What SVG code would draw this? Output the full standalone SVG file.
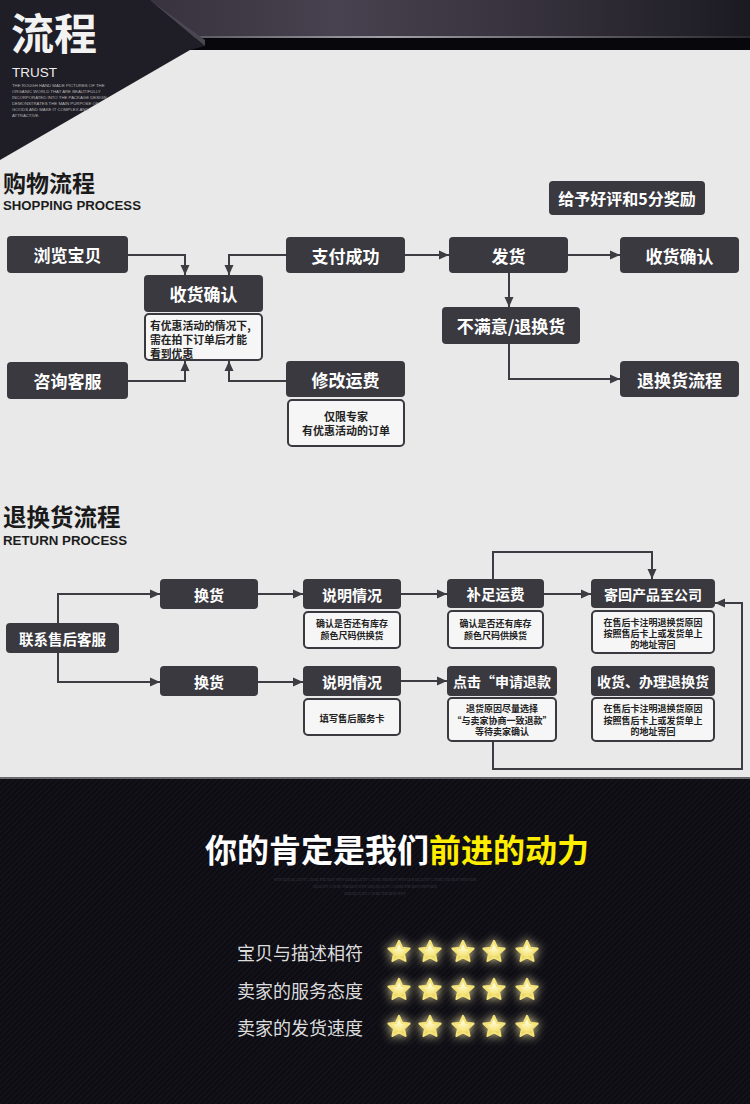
<svg xmlns="http://www.w3.org/2000/svg" width="750" height="1104" viewBox="0 0 750 1104">
<defs>
<style>
.box{fill:#3a393f;}
.note{fill:#f6f6f6;stroke:#3a393f;stroke-width:2;}
.bt{font-family:"Noto Sans CJK SC","Noto Sans",sans-serif;font-weight:bold;fill:#ffffff;text-anchor:middle;dominant-baseline:central;}
.nt{font-family:"Noto Sans CJK SC","Noto Sans",sans-serif;font-weight:bold;fill:#222;text-anchor:middle;dominant-baseline:central;}
.ntl{font-family:"Noto Sans CJK SC","Noto Sans",sans-serif;font-weight:bold;fill:#222;text-anchor:start;dominant-baseline:central;}
.conn{fill:none;stroke:#3d3c42;stroke-width:2;}
.h1{font-family:"Noto Sans CJK SC",sans-serif;font-weight:bold;fill:#1a1a1a;dominant-baseline:central;}
.en{font-family:"Liberation Sans",Arial,sans-serif;font-weight:bold;fill:#1c1c1c;}
.tiny{font-family:"Liberation Sans",Arial,sans-serif;font-size:4.3px;fill:#b5b5b5;}
.lbl{font-family:"Noto Sans CJK SC",sans-serif;font-size:18px;fill:#dcdcdc;dominant-baseline:central;}
</style>
<marker id="arr" markerUnits="userSpaceOnUse" markerWidth="10" markerHeight="10" refX="10" refY="5" orient="auto">
<path d="M0,0.5 L10,5 L0,9.5 z" fill="#3d3c42"/>
</marker>
<linearGradient id="band" x1="0" y1="0" x2="1" y2="0">
<stop offset="0" stop-color="#2a2730"/>
<stop offset="0.45" stop-color="#48414f"/>
<stop offset="0.75" stop-color="#332f39"/>
<stop offset="1" stop-color="#1b1a21"/>
</linearGradient>
<linearGradient id="hl" x1="0" y1="0" x2="1" y2="0">
<stop offset="0" stop-color="#5a5860"/>
<stop offset="0.35" stop-color="#a09ea6"/>
<stop offset="1" stop-color="#2a2930"/>
</linearGradient>
<pattern id="tex" width="4" height="4" patternUnits="userSpaceOnUse" patternTransform="rotate(45)">
<rect width="4" height="4" fill="#0d0c13"/>
<rect width="1.3" height="4" fill="#16151d"/>
</pattern>
<radialGradient id="starFill" cx="0.5" cy="0.3" r="0.7">
<stop offset="0" stop-color="#fffbd8"/>
<stop offset="0.6" stop-color="#f6e680"/>
<stop offset="1" stop-color="#d9bd33"/>
</radialGradient>
<filter id="glow" x="-80%" y="-80%" width="260%" height="260%">
<feGaussianBlur stdDeviation="3.5"/>
</filter>
<g id="star">
<path d="M0,-11 L3.06,-4.21 L10.46,-3.4 L4.95,1.61 L6.47,8.9 L0,5.2 L-6.47,8.9 L-4.95,1.61 L-10.46,-3.4 L-3.06,-4.21 z" fill="#fff6b0" opacity="0.8" filter="url(#glow)" transform="scale(1.35)"/>
<path d="M0,-11 L3.06,-4.21 L10.46,-3.4 L4.95,1.61 L6.47,8.9 L0,5.2 L-6.47,8.9 L-4.95,1.61 L-10.46,-3.4 L-3.06,-4.21 z" fill="url(#starFill)" stroke="#f4e27a" stroke-width="2.2" stroke-linejoin="round"/>
</g>
</defs>

<!-- backgrounds -->
<rect x="0" y="0" width="750" height="1104" fill="#e9e9e9"/>
<rect x="0" y="0" width="750" height="38" fill="url(#band)"/>
<rect x="0" y="38" width="750" height="12" fill="#08070c"/>
<rect x="190" y="36" width="560" height="2" fill="url(#hl)"/>
<polygon points="0,0 150,0 205,46 190,50 0,160" fill="#1f1d25"/>
<polygon points="150,0 205,40 205,46" fill="#4a4652"/>
<rect x="0" y="779" width="750" height="325" fill="url(#tex)"/>
<rect x="0" y="777" width="750" height="2" fill="#6a6a6e"/>

<!-- header texts -->
<text x="11" y="31" font-family="Noto Sans CJK SC,sans-serif" font-weight="bold" font-size="43" fill="#f2f2f2" dominant-baseline="central">流程</text>
<text x="12" y="77" font-family="Liberation Sans,Arial,sans-serif" font-size="13.5" fill="#eeeeee">TRUST</text>
<text class="tiny" x="12" y="87">THE ROUGH HAND MADE PICTURES OF THE<tspan x="12" dy="5.8">ORGANIC WORLD THAT ARE BEAUTIFULLY</tspan><tspan x="12" dy="6.2">INCORPORATED INTO THE PACKAGE DESIGN</tspan><tspan x="12" dy="5.8">DEMONSTRATES THE MAIN PURPOSE OF</tspan><tspan x="12" dy="6">GOODS AND MAKE IT COMPLEX AND</tspan><tspan x="12" dy="6.2">ATTRACTIVE.</tspan></text>

<!-- section titles -->
<text class="h1" x="3" y="182" font-size="23">购物流程</text>
<text class="en" x="3" y="210" font-size="13.5" textLength="138" lengthAdjust="spacingAndGlyphs">SHOPPING PROCESS</text>
<text class="h1" x="3" y="516" font-size="23.5">退换货流程</text>
<text class="en" x="3" y="545" font-size="13.5" textLength="124" lengthAdjust="spacingAndGlyphs">RETURN PROCESS</text>

<!-- connectors -->
<g id="connectors">
<path class="conn" marker-end="url(#arr)" d="M128,255 H185 V275"/>
<path class="conn" marker-end="url(#arr)" d="M286,255 H229 V275"/>
<path class="conn" marker-end="url(#arr)" d="M128,381 H185 V361"/>
<path class="conn" marker-end="url(#arr)" d="M286,381 H229 V361"/>
<path class="conn" marker-end="url(#arr)" d="M405,255 H449"/>
<path class="conn" marker-end="url(#arr)" d="M568,255 H620"/>
<path class="conn" marker-end="url(#arr)" d="M509,273 V307"/>
<path class="conn" marker-end="url(#arr)" d="M509,344 V379 H620"/>
<path class="conn" marker-end="url(#arr)" d="M58,623 V594 H160"/>
<path class="conn" marker-end="url(#arr)" d="M58,653 V682 H160"/>
<path class="conn" marker-end="url(#arr)" d="M258,594 H303"/>
<path class="conn" marker-end="url(#arr)" d="M258,682 H303"/>
<path class="conn" marker-end="url(#arr)" d="M401,594 H447"/>
<path class="conn" marker-end="url(#arr)" d="M401,681 H447"/>
<path class="conn" marker-end="url(#arr)" d="M544,594 H591"/>
<path class="conn" marker-end="url(#arr)" d="M493,579 V552 H652 V579"/>
<path class="conn" marker-end="url(#arr)" d="M493,742 V769 H742 V603 H715"/>
</g>

<!-- shopping nodes -->
<g id="s-browse"><rect class="box" x="7" y="236" width="121" height="37" rx="4"/><text class="bt" x="67.5" y="254.5" font-size="17">浏览宝贝</text></g>
<g id="s-confirm1">
<rect class="box" x="144" y="275" width="119" height="37" rx="4"/><text class="bt" x="203.5" y="293.5" font-size="17">收货确认</text>
<rect class="note" x="145" y="314" width="117" height="46" rx="4"/>
<text class="ntl" x="150" y="325" font-size="10.8">有优惠活动的情况下,<tspan x="150" dy="14">需在拍下订单后才能</tspan><tspan x="150" dy="14">看到优惠</tspan></text>
</g>
<g id="s-consult"><rect class="box" x="7" y="362" width="121" height="37" rx="4"/><text class="bt" x="67.5" y="380.5" font-size="17">咨询客服</text></g>
<g id="s-paid"><rect class="box" x="286" y="237" width="119" height="36" rx="4"/><text class="bt" x="345.5" y="255" font-size="17">支付成功</text></g>
<g id="s-fee">
<rect class="box" x="286" y="361" width="119" height="36" rx="4"/><text class="bt" x="345.5" y="379" font-size="17">修改运费</text>
<rect class="note" x="288" y="400" width="116" height="46" rx="4"/>
<text class="nt" x="346" y="416" font-size="11">仅限专家<tspan x="346" dy="14.2">有优惠活动的订单</tspan></text>
</g>
<g id="s-reward"><rect class="box" x="549" y="181" width="156" height="34" rx="4"/><text class="bt" x="627" y="198" font-size="16">给予好评和5分奖励</text></g>
<g id="s-ship"><rect class="box" x="449" y="237" width="119" height="36" rx="4"/><text class="bt" x="508.5" y="255" font-size="17">发货</text></g>
<g id="s-confirm2"><rect class="box" x="620" y="237" width="119" height="36" rx="4"/><text class="bt" x="679.5" y="255" font-size="17">收货确认</text></g>
<g id="s-unsat"><rect class="box" x="442" y="307" width="138" height="37" rx="4"/><text class="bt" x="511" y="325.5" font-size="17">不满意/退换货</text></g>
<g id="s-return"><rect class="box" x="620" y="361" width="119" height="36" rx="4"/><text class="bt" x="679.5" y="379" font-size="17">退换货流程</text></g>

<!-- return nodes -->
<g id="r-contact"><rect class="box" x="6" y="623" width="113" height="30" rx="4"/><text class="bt" x="62.5" y="638" font-size="14.5">联系售后客服</text></g>
<g id="r-exch1"><rect class="box" x="160" y="579" width="98" height="30" rx="4"/><text class="bt" x="209" y="594" font-size="15">换货</text></g>
<g id="r-exch2"><rect class="box" x="160" y="666" width="98" height="30" rx="4"/><text class="bt" x="209" y="681" font-size="15">换货</text></g>
<g id="r-explain1">
<rect class="box" x="303" y="579" width="98" height="30" rx="4"/><text class="bt" x="352" y="594" font-size="15">说明情况</text>
<rect class="note" x="304" y="612" width="96" height="36" rx="4"/>
<text class="nt" x="352" y="623.5" font-size="9">确认是否还有库存<tspan x="352" dy="11.5">颜色尺码供换货</tspan></text>
</g>
<g id="r-explain2">
<rect class="box" x="303" y="666" width="98" height="30" rx="4"/><text class="bt" x="352" y="681" font-size="15">说明情况</text>
<rect class="note" x="304" y="699" width="96" height="36" rx="4"/>
<text class="nt" x="352" y="718" font-size="9.3">填写售后服务卡</text>
</g>
<g id="r-topup">
<rect class="box" x="447" y="579" width="97" height="29" rx="4"/><text class="bt" x="495.5" y="593.5" font-size="14.5">补足运费</text>
<rect class="note" x="448" y="611" width="95" height="37" rx="4"/>
<text class="nt" x="495.5" y="623.5" font-size="9">确认是否还有库存<tspan x="495.5" dy="11.5">颜色尺码供换货</tspan></text>
</g>
<g id="r-send">
<rect class="box" x="591" y="579" width="124" height="29" rx="4"/><text class="bt" x="653" y="593.5" font-size="14">寄回产品至公司</text>
<rect class="note" x="592" y="611" width="122" height="42" rx="4"/>
<text class="nt" x="653" y="622" font-size="9">在售后卡注明退换货原因<tspan x="653" dy="11">按照售后卡上或发货单上</tspan><tspan x="653" dy="11">的地址寄回</tspan></text>
</g>
<g id="r-refund">
<rect class="box" x="447" y="666" width="110" height="30" rx="4"/><text class="bt" x="502" y="681" font-size="14">点击“申请退款</text>
<rect class="note" x="448" y="698" width="108" height="43" rx="4"/>
<text class="nt" x="502" y="708.5" font-size="9">退货原因尽量选择<tspan x="502" dy="11">“与卖家协商一致退款”</tspan><tspan x="502" dy="11">等待卖家确认</tspan></text>
</g>
<g id="r-receive">
<rect class="box" x="591" y="666" width="124" height="30" rx="4"/><text class="bt" x="653" y="681" font-size="14">收货、办理退换货</text>
<rect class="note" x="592" y="698" width="122" height="43" rx="4"/>
<text class="nt" x="653" y="708.5" font-size="9">在售后卡注明退换货原因<tspan x="653" dy="11">按照售后卡上或发货单上</tspan><tspan x="653" dy="11">的地址寄回</tspan></text>
</g>

<!-- bottom -->
<text x="205" y="848" font-family="Noto Sans CJK SC,sans-serif" font-weight="bold" font-size="32" dominant-baseline="central"><tspan fill="#ffffff">你的肯定是我们</tspan><tspan fill="#ffee00">前进的动力</tspan></text>
<text font-family="Liberation Serif,serif" font-size="3.4" fill="#3c3b46" text-anchor="middle" x="375" y="881">WHY OUR QUALITY CAN BE THE BEST WHY OUR QUALITY CAN BE THE BEST WHY OUR QUALITY CAN BE THE BEST WHY OUR<tspan x="375" dy="7">QUALITY CAN BE THE BEST WHY OUR QUALITY CAN BE THE BEST WHY OUR</tspan><tspan x="375" dy="7">OUR QUALITY CAN BE THE BEST WHY</tspan></text>
<text class="lbl" x="237" y="952">宝贝与描述相符</text>
<text class="lbl" x="237" y="990">卖家的服务态度</text>
<text class="lbl" x="237" y="1027">卖家的发货速度</text>
<g id="stars">
<use href="#star" x="399" y="952"/><use href="#star" x="430" y="952"/><use href="#star" x="463" y="952"/><use href="#star" x="494" y="952"/><use href="#star" x="527" y="952"/>
<use href="#star" x="399" y="990"/><use href="#star" x="430" y="990"/><use href="#star" x="463" y="990"/><use href="#star" x="494" y="990"/><use href="#star" x="527" y="990"/>
<use href="#star" x="399" y="1027"/><use href="#star" x="430" y="1027"/><use href="#star" x="463" y="1027"/><use href="#star" x="494" y="1027"/><use href="#star" x="527" y="1027"/>
</g>
</svg>
